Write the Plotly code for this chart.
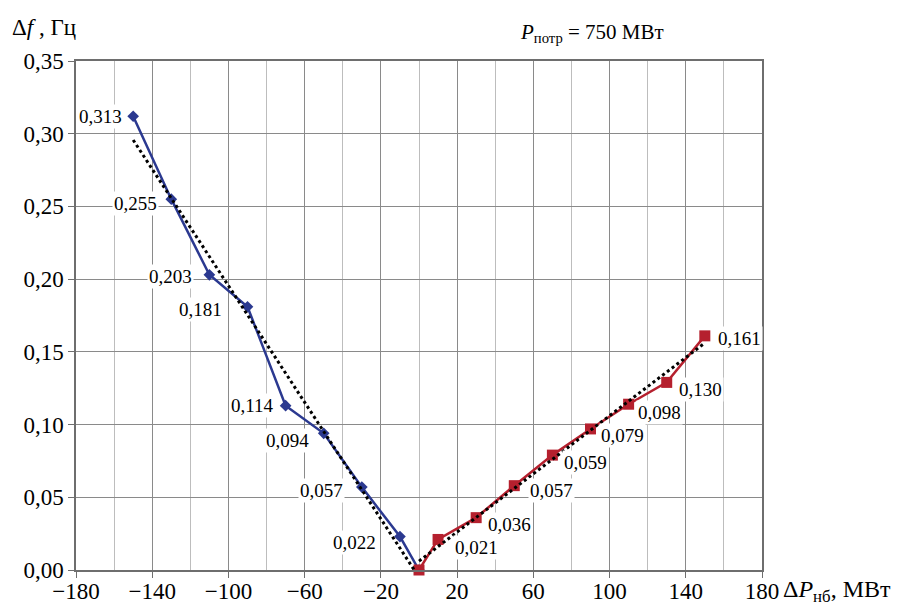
import numpy as np
import plotly.graph_objects as go

# ---- data ----
blue_x = [-150, -130, -110, -90, -70, -50, -30, -10, 0]
blue_y = [0.312, 0.255, 0.203, 0.181, 0.113, 0.094, 0.057, 0.023, 0.0]
blue_labels = ["0,313", "0,255", "0,203", "0,181", "0,114", "0,094", "0,057", "0,022"]

red_x = [0, 10, 30, 50, 70, 90, 110, 130, 150]
red_y = [0.0, 0.021, 0.036, 0.058, 0.079, 0.097, 0.114, 0.129, 0.161]
red_labels = ["0,021", "0,036", "0,057", "0,059", "0,079", "0,098", "0,130", "0,161"]

x_tickvals = [-180, -140, -100, -60, -20, 20, 60, 100, 140, 180]
x_ticktext = ["\u2212180", "\u2212140", "\u2212100", "\u221260", "\u221220", "20", "60", "100", "140", "180"]
y_tickvals = [0.0, 0.05, 0.10, 0.15, 0.20, 0.25, 0.30, 0.35]
y_ticktext = ["0,00", "0,05", "0,10", "0,15", "0,20", "0,25", "0,30", "0,35"]

# label offsets (pixels) - styling only
blue_dx = [-9, -12, -15, -24, -10, -13, -17, -22]
blue_dy = [0, -4, -2, -3, 0, -7, -3, -6]
red_dx = [15, 10, 14, 10, 8, 7, 10, 11]
red_dy = [-8, -7, -5, -7, -7, -8, -7, -3]

BLUE = "#2b3990"
RED = "#b5202e"
FONT = "Liberation Serif, Times New Roman, serif"

fig = go.Figure()

# linear trend lines (least squares fit of each series)
bk, bb = np.polyfit(blue_x, blue_y, 1)
rk, rb = np.polyfit(red_x, red_y, 1)
bt_x = [blue_x[0], blue_x[-1]]
rt_x = [red_x[0], red_x[-1]]

fig.add_trace(go.Scatter(x=blue_x, y=blue_y, mode="lines+markers",
                         line=dict(color=BLUE, width=2.5),
                         marker=dict(symbol="diamond", size=9, color=BLUE),
                         showlegend=False))
fig.add_trace(go.Scatter(x=red_x, y=red_y, mode="lines+markers",
                         line=dict(color=RED, width=2.5),
                         marker=dict(symbol="square", size=11, color=RED),
                         showlegend=False, cliponaxis=False))
fig.add_trace(go.Scatter(x=bt_x, y=[bk * v + bb for v in bt_x], mode="lines",
                         line=dict(color="black", width=3, dash="dot"),
                         showlegend=False))
fig.add_trace(go.Scatter(x=rt_x, y=[rk * v + rb for v in rt_x], mode="lines",
                         line=dict(color="black", width=3, dash="dot"),
                         showlegend=False))

annotations = []
for x, y, t, dx, dy in zip(blue_x, blue_y, blue_labels, blue_dx, blue_dy):
    annotations.append(dict(x=x, y=y, xref="x", yref="y", text=t, showarrow=False,
                            xanchor="right", yanchor="middle", xshift=dx, yshift=dy,
                            bgcolor="white", borderpad=1,
                            font=dict(family=FONT, size=19, color="black")))
for x, y, t, dx, dy in zip(red_x[1:], red_y[1:], red_labels, red_dx, red_dy):
    annotations.append(dict(x=x, y=y, xref="x", yref="y", text=t, showarrow=False,
                            xanchor="left", yanchor="middle", xshift=dx, yshift=dy,
                            bgcolor="white", borderpad=1,
                            font=dict(family=FONT, size=19, color="black")))

annotations.append(dict(x=0, y=1, xref="paper", yref="paper", xanchor="left", yanchor="middle",
                        xshift=-66, yshift=34, showarrow=False,
                        text="\u0394<i>f</i> , \u0413\u0446",
                        font=dict(family=FONT, size=23, color="black")))
annotations.append(dict(x=0.644, y=1, xref="paper", yref="paper", xanchor="left", yanchor="middle",
                        yshift=28, showarrow=False,
                        text="<i>P</i><sub>\u043f\u043e\u0442\u0440</sub> = 750 \u041c\u0412\u0442",
                        font=dict(family=FONT, size=21, color="black")))
annotations.append(dict(x=1, y=0, xref="paper", yref="paper", xanchor="left", yanchor="middle",
                        xshift=19, yshift=-21, showarrow=False,
                        text="\u0394<i>P</i><sub>\u043d\u0431</sub>, \u041c\u0412\u0442",
                        font=dict(family=FONT, size=24, color="black")))

fig.update_layout(
    width=901, height=606,
    margin=dict(l=76, r=139, t=61, b=36, autoexpand=False),
    paper_bgcolor="white", plot_bgcolor="white",
    font=dict(family=FONT, size=23, color="black"),
    annotations=annotations,
    xaxis=dict(range=[-180, 180], tickvals=x_tickvals, ticktext=x_ticktext, automargin=False,
               showgrid=True, gridcolor="#8a8a8a", gridwidth=1.2,
               minor=dict(tick0=-180, dtick=20, showgrid=True, gridcolor="#bdbdbd", gridwidth=1.2),
               zeroline=False, showline=True, linecolor="#6e6e6e", linewidth=1.5, mirror=True,
               ticks="outside", ticklen=6, tickcolor="#6e6e6e", ticklabelstandoff=-6,
               tickfont=dict(family=FONT, size=23, color="black")),
    yaxis=dict(range=[0, 0.35], tickvals=y_tickvals, ticktext=y_ticktext, automargin=False,
               showgrid=True, gridcolor="#8a8a8a", gridwidth=1.2,
               zeroline=False, showline=True, linecolor="#6e6e6e", linewidth=1.5, mirror=True,
               ticks="outside", ticklen=6, tickcolor="#6e6e6e",
               tickfont=dict(family=FONT, size=23, color="black")),
)

fig.write_html("out.html", config={"displayModeBar": False},
               post_script="document.body.style.margin='0';document.body.style.overflow='hidden';")
